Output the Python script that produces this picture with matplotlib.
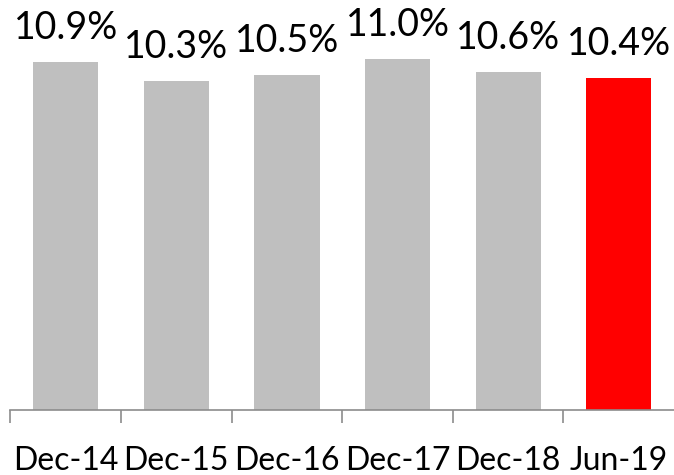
import matplotlib
matplotlib.use("Agg")
import matplotlib.pyplot as plt
import numpy as np

categories = ["Dec-14", "Dec-15", "Dec-16", "Dec-17", "Dec-18", "Jun-19"]
values = [10.9, 10.3, 10.5, 11.0, 10.6, 10.4]
labels = ["10.9%", "10.3%", "10.5%", "11.0%", "10.6%", "10.4%"]
colors = ["#BFBFBF"] * 5 + ["#FF0000"]

plt.rcParams["font.family"] = ["Lato", "DejaVu Sans"]

fig = plt.figure(figsize=(6.74, 4.75), dpi=100)
ax = fig.add_axes([10.5 / 674, 65 / 475, 663.5 / 674, 410 / 475])

x = np.arange(len(categories))
bars = ax.bar(x, values, width=0.59, color=colors, zorder=2)

for xi, v, lab in zip(x, values, labels):
    ax.annotate(lab, (xi, v), xytext=(0, 16), textcoords="offset pixels",
                ha="center", va="bottom", fontsize=27, color="#000000")

ax.set_xlim(-0.5, len(categories) - 0.5)
ax.set_ylim(0, 12.85)

for side in ("top", "right", "left"):
    ax.spines[side].set_visible(False)
ax.spines["bottom"].set_color("#8C8C8C")
ax.spines["bottom"].set_linewidth(1.2)

ax.set_yticks([])
ax.set_xticks(x)
ax.set_xticklabels(categories, fontsize=23)
ax.tick_params(axis="x", which="major", length=0, pad=26)
ax.set_xticks(np.arange(len(categories)) - 0.5, minor=True)
ax.tick_params(axis="x", which="minor", length=9, width=1.2, color="#8C8C8C")

fig.savefig("out.png", dpi=100)
